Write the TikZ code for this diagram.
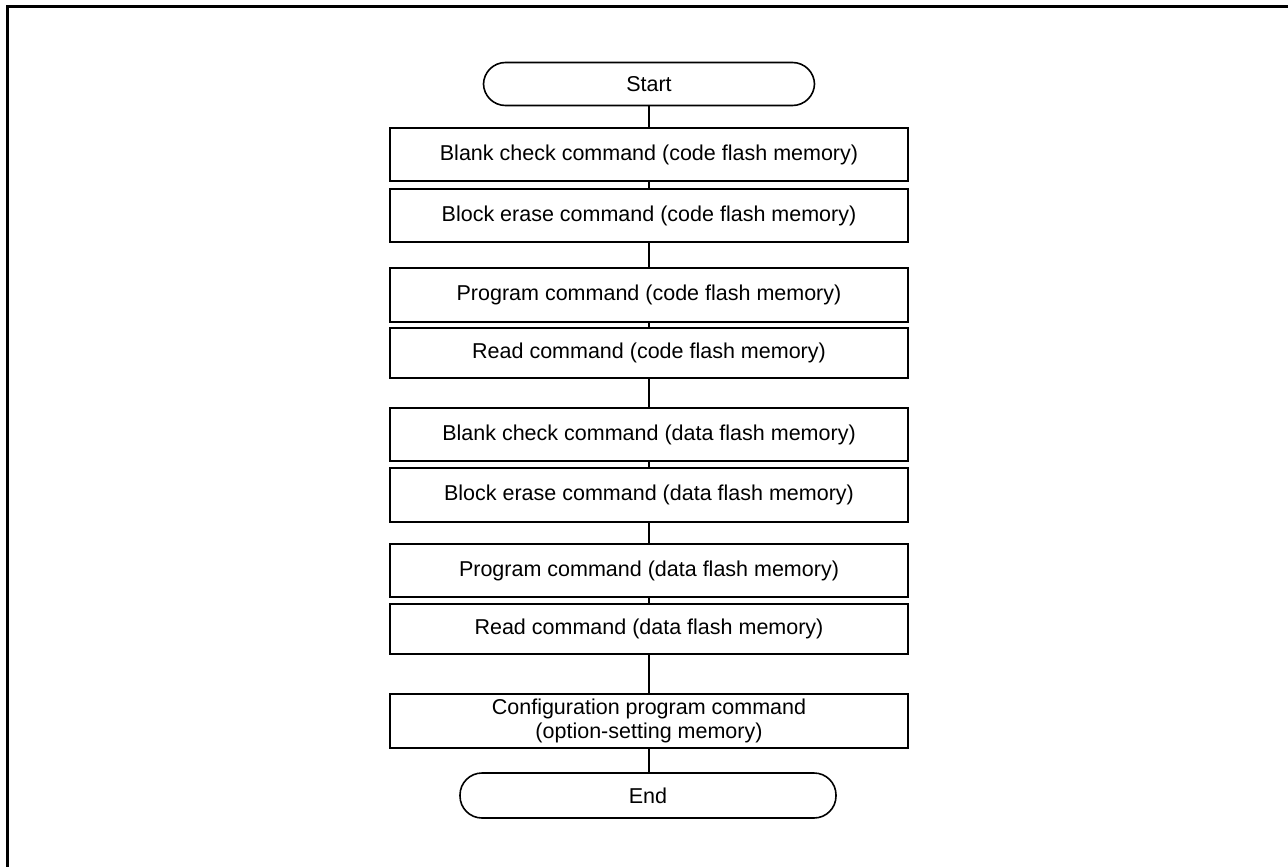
\documentclass[tikz,border=0pt]{standalone}
\usepackage{fontspec}
\setmainfont{Liberation Sans}
\begin{document}
\begin{tikzpicture}[x=1pt,y=-1pt,
  stepbox/.style={draw=black, line width=2pt, minimum width=518pt, inner sep=0pt, align=center, font=\fontsize{21.5}{24}\selectfont},
  term/.style={draw=black, line width=1.6pt, rounded corners=22pt, inner sep=0pt, font=\fontsize{21.5}{24}\selectfont},
  conn/.style={draw=black, line width=1.6pt}]
\useasboundingbox (0,0) rectangle (1288,867);
\clip (0,0) rectangle (1288,867);
\draw[line width=3pt] (7.5,880) -- (7.5,6.5) -- (1300,6.5);

\node[term, minimum width=331pt, minimum height=43pt] (start) at (649,84) {Start};
\node[stepbox, minimum height=53pt] (b1) at (649,154.5) {Blank check command (code flash memory)};
\node[stepbox, minimum height=53pt] (b2) at (649,215.5) {Block erase command (code flash memory)};
\node[stepbox, minimum height=54pt] (b3) at (649,295) {Program command (code flash memory)};
\node[stepbox, minimum height=50pt] (b4) at (649,353) {Read command (code flash memory)};
\node[stepbox, minimum height=53pt] (b5) at (649,434.5) {Blank check command (data flash memory)};
\node[stepbox, minimum height=54pt] (b6) at (649,495) {Block erase command (data flash memory)};
\node[stepbox, minimum height=53pt] (b7) at (649,570.5) {Program command (data flash memory)};
\node[stepbox, minimum height=50pt] (b8) at (649,629) {Read command (data flash memory)};
\node[stepbox, minimum height=54pt] (b9) at (649,721) {Configuration program command\\(option-setting memory)};
\node[term, minimum width=376pt, minimum height=45pt] (end) at (648,795.5) {End};

\draw[conn] (start.south) -- (b1.north);
\draw[conn] (b1.south) -- (b2.north);
\draw[conn] (b2.south) -- (b3.north);
\draw[conn] (b3.south) -- (b4.north);
\draw[conn] (b4.south) -- (b5.north);
\draw[conn] (b5.south) -- (b6.north);
\draw[conn] (b6.south) -- (b7.north);
\draw[conn] (b7.south) -- (b8.north);
\draw[conn] (b8.south) -- (b9.north);
\draw[conn] (b9.south) -- (b9.south |- end.north);
\end{tikzpicture}
\end{document}
